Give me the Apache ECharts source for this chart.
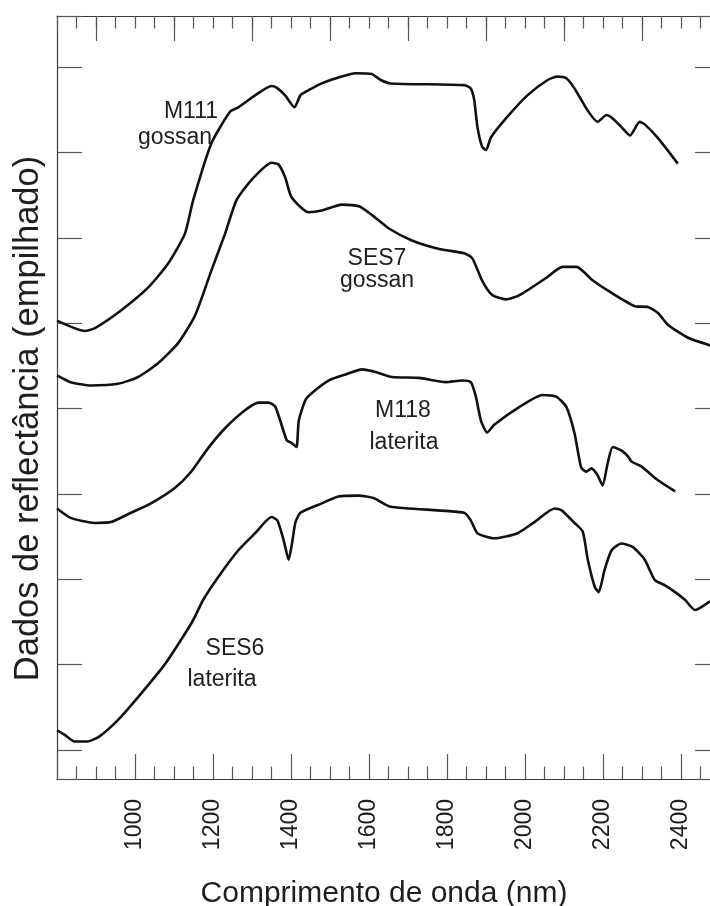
<!DOCTYPE html>
<html>
<head>
<meta charset="utf-8">
<script src="https://cdn.jsdelivr.net/npm/echarts@6/dist/echarts.min.js"></script>
<style>
  html, body { margin: 0; padding: 0; background: #fff; }
  #chart { width: 710px; height: 906px; }
</style>
</head>
<body>
<div id="chart"></div>
<script>
// [wavelength nm, stacked reflectance] ; 1 unit = one y tick
var m111 = [
  [800, 5.03], [871, 4.91], [896, 4.94], [964, 5.15], [1034, 5.42], [1085, 5.70], [1128, 6.05],
  [1149, 6.44], [1196, 7.11], [1244, 7.48], [1265, 7.53], [1308, 7.67], [1350, 7.78], [1363, 7.76],
  [1385, 7.67], [1409, 7.53], [1424, 7.67], [1437, 7.71], [1479, 7.81], [1522, 7.88], [1565, 7.93],
  [1607, 7.92], [1630, 7.85], [1655, 7.81], [1844, 7.79], [1861, 7.75], [1870, 7.61], [1878, 7.30],
  [1890, 7.07], [1900, 7.03], [1913, 7.18], [1955, 7.42], [2006, 7.67], [2058, 7.85], [2083, 7.89],
  [2106, 7.87], [2127, 7.75], [2161, 7.49], [2186, 7.36], [2209, 7.44], [2222, 7.41], [2247, 7.30],
  [2269, 7.20], [2294, 7.36], [2307, 7.33], [2341, 7.17], [2392, 6.87]
];
var ses7 = [
  [800, 4.39], [835, 4.31], [887, 4.27], [956, 4.29], [1008, 4.37], [1059, 4.53], [1111, 4.77],
  [1154, 5.09], [1196, 5.62], [1231, 6.05], [1260, 6.44], [1299, 6.68], [1350, 6.88], [1368, 6.86],
  [1385, 6.71], [1401, 6.48], [1445, 6.30], [1479, 6.32], [1530, 6.39], [1574, 6.37], [1607, 6.27],
  [1651, 6.11], [1710, 5.97], [1780, 5.87], [1844, 5.82], [1865, 5.76], [1890, 5.50], [1916, 5.33],
  [1951, 5.28], [1986, 5.33], [2054, 5.53], [2096, 5.66], [2132, 5.66], [2174, 5.50], [2217, 5.37],
  [2282, 5.20], [2315, 5.19], [2341, 5.12], [2367, 4.98], [2418, 4.83], [2475, 4.74], [2500, 4.71]
];
var m118 = [
  [800, 2.83], [835, 2.72], [896, 2.66], [938, 2.67], [990, 2.78], [1041, 2.89], [1102, 3.07],
  [1144, 3.26], [1188, 3.54], [1231, 3.77], [1282, 3.98], [1317, 4.07], [1342, 4.07], [1360, 4.02],
  [1389, 3.63], [1401, 3.60], [1414, 3.55], [1420, 3.86], [1437, 4.10], [1453, 4.18], [1497, 4.33],
  [1540, 4.40], [1582, 4.46], [1617, 4.43], [1659, 4.37], [1728, 4.36], [1797, 4.31], [1839, 4.33],
  [1861, 4.31], [1874, 4.14], [1887, 3.86], [1903, 3.72], [1921, 3.81], [1986, 4.02], [2045, 4.16],
  [2080, 4.14], [2106, 4.02], [2127, 3.71], [2144, 3.31], [2157, 3.26], [2170, 3.30], [2186, 3.22],
  [2199, 3.10], [2212, 3.36], [2225, 3.55], [2247, 3.51], [2264, 3.44], [2273, 3.38], [2299, 3.32],
  [2341, 3.16], [2385, 3.03]
];
var ses6 = [
  [800, 0.23], [819, 0.18], [845, 0.10], [879, 0.10], [909, 0.16], [956, 0.35], [1008, 0.62],
  [1076, 1.00], [1118, 1.29], [1149, 1.52], [1175, 1.76], [1214, 2.03], [1265, 2.34], [1308, 2.54],
  [1350, 2.73], [1365, 2.69], [1381, 2.46], [1394, 2.23], [1404, 2.46], [1411, 2.66], [1424, 2.78],
  [1479, 2.89], [1522, 2.97], [1574, 2.98], [1613, 2.95], [1655, 2.85], [1844, 2.78], [1861, 2.69],
  [1878, 2.54], [1921, 2.48], [1981, 2.54], [2024, 2.67], [2076, 2.83], [2093, 2.81], [2127, 2.66],
  [2148, 2.56], [2161, 2.23], [2179, 1.91], [2189, 1.85], [2204, 2.11], [2222, 2.34], [2247, 2.42],
  [2276, 2.38], [2307, 2.23], [2333, 1.99], [2359, 1.93], [2385, 1.85], [2410, 1.76], [2436, 1.64],
  [2475, 1.74], [2500, 1.78]
];
// top axis long ticks sit on the odd hundreds
var topTickValues = ['800', '900', '1000', '1100', '1200', '1300', '1400', '1500', '1600',
  '1700', '1800', '1900', '2000', '2100', '2200', '2300', '2400', '2500'];

var FONT = '"Liberation Sans", Arial, sans-serif';
var AXIS_COLOR = '#3c3c3c';
var TICK_COLOR = '#555';

function curve(name, data) {
  return {
    name: name,
    type: 'line',
    data: data,
    showSymbol: false,
    symbol: 'none',
    smooth: 0.2,
    lineStyle: { color: '#111', width: 2.6 },
    silent: true
  };
}

function label(text, x, y) {
  return {
    type: 'text',
    x: x, y: y,
    style: {
      text: text, fill: '#1e1e1e', font: '23px ' + FONT,
      align: 'center', verticalAlign: 'middle'
    }
  };
}

var frameLine = { show: true, onZero: false, lineStyle: { color: AXIS_COLOR, width: 1.2 } };

var chart = echarts.init(document.getElementById('chart'));
chart.setOption({
  animation: false,
  backgroundColor: '#fff',
  grid: { left: 57, right: -10, top: 16, bottom: 127, outerBoundsMode: 'none', containLabel: false },
  xAxis: [
    {
      type: 'value', position: 'bottom', min: 800, max: 2500, interval: 200,
      axisLine: frameLine,
      axisTick: { show: true, inside: true, length: 25, lineStyle: { color: TICK_COLOR, width: 1.2 } },
      minorTick: { show: true, splitNumber: 4, length: 12.5, lineStyle: { color: TICK_COLOR, width: 1.2 } },
      splitLine: { show: false },
      axisLabel: {
        rotate: 90, fontSize: 23, color: '#1e1e1e', fontFamily: FONT, margin: 20,
        showMinLabel: false, showMaxLabel: false,
        formatter: function (v) { return String(v); }
      },
      name: 'Comprimento de onda (nm)', nameLocation: 'middle', nameGap: 100,
      nameTextStyle: { fontSize: 30, color: '#1e1e1e', fontFamily: FONT, padding: [0, 9, 0, 0] }
    },
    {
      type: 'value', position: 'top', min: 800, max: 2500, interval: 50,
      axisLine: frameLine,
      axisTick: { show: true, inside: true, length: 12.5, lineStyle: { color: TICK_COLOR, width: 1.2 } },
      axisLabel: { show: false },
      splitLine: { show: false }
    },
    {
      type: 'category', position: 'top', boundaryGap: false, data: topTickValues,
      axisLine: { show: false, onZero: false },
      axisTick: {
        show: true, inside: true, length: 25,
        interval: function (i) { return i % 2 === 1; },
        lineStyle: { color: TICK_COLOR, width: 1.2 }
      },
      axisLabel: { show: false },
      splitLine: { show: false }
    }
  ],
  yAxis: [
    {
      type: 'value', position: 'left', min: -0.34, max: 8.6, splitNumber: 9,
      axisLine: frameLine,
      axisTick: { show: true, inside: true, length: 25, lineStyle: { color: TICK_COLOR, width: 1.2 } },
      axisLabel: { show: false },
      splitLine: { show: false },
      name: 'Dados de reflectância (empilhado)', nameLocation: 'middle', nameGap: 11,
      nameTextStyle: { fontSize: 34.5, color: '#1e1e1e', fontFamily: FONT, padding: [0, 42, 0, 0] }
    },
    {
      type: 'value', position: 'right', min: -0.34, max: 8.6, splitNumber: 9,
      axisLine: frameLine,
      axisTick: { show: true, inside: true, length: 25, lineStyle: { color: TICK_COLOR, width: 1.2 } },
      axisLabel: { show: false },
      splitLine: { show: false }
    }
  ],
  series: [
    curve('M111 gossan', m111),
    curve('SES7 gossan', ses7),
    curve('M118 laterita', m118),
    curve('SES6 laterita', ses6)
  ],
  graphic: [
    label('M111', 191, 112),
    label('gossan', 175, 138),
    label('SES7', 377, 259),
    label('gossan', 377, 281),
    label('M118', 403, 411),
    label('laterita', 404, 443),
    label('SES6', 235, 649),
    label('laterita', 222, 680)
  ]
});
</script>
</body>
</html>
